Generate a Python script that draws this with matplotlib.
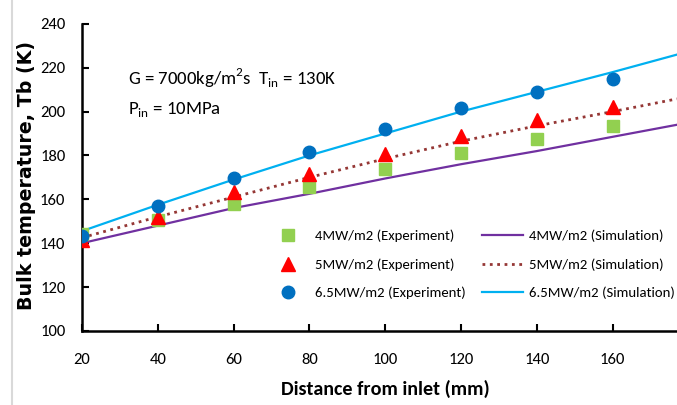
import numpy as np
import matplotlib.pyplot as plt
from matplotlib.lines import Line2D

plt.rcParams['font.family'] = ['Carlito', 'DejaVu Sans']

# measured points (mm, K)
x_exp = [20, 40, 60, 80, 100, 120, 140, 160]
t_4mw = [144.0, 150.6, 158.0, 165.4, 173.9, 181.2, 187.3, 193.3]
t_5mw = [141.5, 152.0, 163.5, 171.5, 180.5, 188.7, 196.0, 202.3]
t_65mw = [143.3, 157.0, 169.8, 181.6, 192.1, 201.7, 209.0, 214.9]

# simulation curves
x_sim = [20, 40, 60, 80, 100, 120, 140, 160, 177]
s_4mw = [140.0, 148.0, 156.0, 162.5, 169.5, 176.0, 182.0, 188.5, 194.0]
s_5mw = [142.5, 152.0, 161.0, 170.0, 178.5, 186.5, 193.5, 200.0, 205.8]
s_65mw = [145.5, 157.5, 169.0, 180.0, 190.0, 200.0, 209.0, 218.0, 226.0]

fig = plt.figure(figsize=(6.77, 4.05), dpi=100)
ax = fig.add_axes([0.121, 0.183, 0.879, 0.758])

ax.plot(x_exp, t_4mw, 's', color='#92D050', ms=8.5, label='4MW/m2 (Experiment)', zorder=3)
ax.plot(x_exp, t_5mw, '^', color='#FF0000', ms=10.5, label='5MW/m2 (Experiment)', zorder=4)
ax.plot(x_exp, t_65mw, 'o', color='#0070C0', ms=9, label='6.5MW/m2 (Experiment)', zorder=5)
ax.plot(x_sim, s_4mw, '-', color='#7030A0', lw=1.6, label='4MW/m2 (Simulation)', zorder=2)
ax.plot(x_sim, s_5mw, ':', color='#953735', lw=2.0, label='5MW/m2 (Simulation)', zorder=2)
ax.plot(x_sim, s_65mw, '-', color='#00B0F0', lw=1.6, label='6.5MW/m2 (Simulation)', zorder=2)

ax.set_xlim(20, 177)
ax.set_ylim(100, 240)
ax.set_xticks(range(20, 161, 20))
ax.set_yticks(range(100, 241, 20))
ax.spines['top'].set_visible(False)
ax.spines['right'].set_visible(False)
ax.spines['left'].set_linewidth(1.8)
ax.spines['bottom'].set_linewidth(1.8)
ax.tick_params(direction='in', length=5, width=1.5, labelsize=12, pad=16)
ax.tick_params(axis='y', pad=12)

ax.set_xlabel('Distance from inlet (mm)', fontsize=14.5, fontweight='bold')
ax.xaxis.set_label_coords(0.51, -0.158)
ax.set_ylabel('Bulk temperature, Tb (K)', fontsize=13.7, fontweight='bold',
              family=['DejaVu Sans'])
ax.yaxis.set_label_coords(-0.077, 0.505)

ax.text(0.077, 0.824, r'G = 7000kg/m$^{\mathregular{2}}$s  T$_{\mathregular{in}}$ = 130K',
        transform=ax.transAxes, fontsize=13.5, va='center')
ax.text(0.077, 0.717, r'P$_{\mathregular{in}}$ = 10MPa', transform=ax.transAxes,
        fontsize=13.5, va='center')

ax.legend(loc='upper left', bbox_to_anchor=(0.302, 0.35), ncol=2, frameon=False, fontsize=10.6,
          handlelength=2.8, columnspacing=1.1, labelspacing=1.1, handletextpad=0.4,
          borderaxespad=0)

fig.add_artist(Line2D([12 / 677, 12 / 677], [0, 1], color='#d9d9d9', lw=1.5))

fig.savefig('out.png', dpi=100)
